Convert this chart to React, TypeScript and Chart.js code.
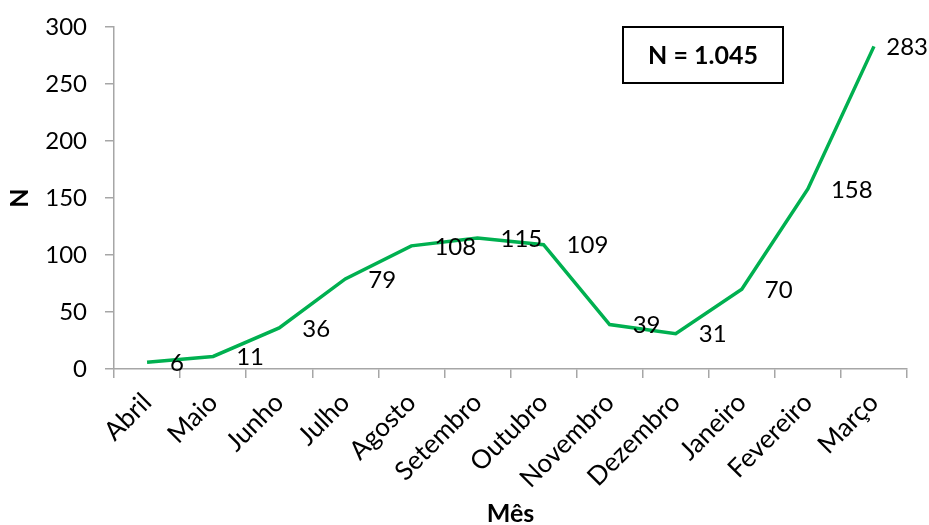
import React, { useEffect, useRef } from "react";
import { Chart, registerables } from "chart.js";

Chart.register(...registerables);

// Monthly counts, April through March
const months = [
  "Abril", "Maio", "Junho", "Julho", "Agosto", "Setembro",
  "Outubro", "Novembro", "Dezembro", "Janeiro", "Fevereiro", "Março",
];
const counts = [6, 11, 36, 79, 108, 115, 109, 39, 31, 70, 158, 283];
const yTicks = [0, 50, 100, 150, 200, 250, 300];
const totalLabel = "N = 1.045";

const FONT = "Lato, 'Open Sans', sans-serif";
const AXIS_GRAY = "#a6a6a6";
const LINE_GREEN = "#00b050";

// Writes each month's value to the right of its point
const valueLabels = {
  id: "valueLabels",
  afterDatasetsDraw(chart: any) {
    const { ctx } = chart;
    const meta = chart.getDatasetMeta(0);
    ctx.save();
    ctx.font = `24px ${FONT}`;
    ctx.fillStyle = "#000";
    ctx.textAlign = "left";
    ctx.textBaseline = "middle";
    meta.data.forEach((pt: any, i: number) => {
      const text = String(counts[i]);
      const w = ctx.measureText(text).width;
      let x = pt.x + 23;
      if (x + w > chart.width - 1) x = chart.width - 1 - w;
      ctx.fillText(text, x, pt.y + 1);
    });
    ctx.restore();
  },
};

// Framed total in the upper right of the plot
const totalBox = {
  id: "totalBox",
  afterDraw(chart: any) {
    const { ctx, chartArea } = chart;
    const w = 160;
    const h = 56;
    const x = chartArea.right - 124 - w;
    const y = chartArea.top;
    ctx.save();
    ctx.strokeStyle = "#000";
    ctx.lineWidth = 2;
    ctx.strokeRect(x, y, w, h);
    ctx.font = `bold 25px ${FONT}`;
    ctx.fillStyle = "#000";
    ctx.textAlign = "center";
    ctx.textBaseline = "middle";
    ctx.fillText(totalLabel, x + w / 2, y + h / 2 + 1);
    ctx.restore();
  },
};

export default function App() {
  const canvasRef = useRef<HTMLCanvasElement | null>(null);

  useEffect(() => {
    if (!canvasRef.current) return;
    const chart = new Chart(canvasRef.current, {
      type: "line",
      data: {
        labels: months,
        datasets: [
          {
            data: counts,
            borderColor: LINE_GREEN,
            borderWidth: 3.5,
            pointRadius: 0,
            tension: 0,
            fill: false,
          },
        ],
      },
      options: {
        animation: false,
        responsive: true,
        maintainAspectRatio: false,
        layout: { padding: { top: 27, right: 22, left: 0, bottom: 0 } },
        plugins: {
          legend: { display: false },
          tooltip: { enabled: false },
        },
        scales: {
          x: {
            type: "category",
            offset: true,
            grid: {
              offset: true,
              drawOnChartArea: false,
              drawTicks: true,
              tickLength: 9,
              color: AXIS_GRAY,
              lineWidth: 1.5,
            },
            border: { color: AXIS_GRAY, width: 1.5 },
            ticks: {
              minRotation: 45,
              maxRotation: 45,
              autoSkip: false,
              padding: 9,
              color: "#000",
              font: { family: FONT, size: 26 },
            },
            title: {
              display: true,
              text: "Mês",
              color: "#000",
              font: { family: FONT, size: 25, weight: "bold", lineHeight: 0.85 },
              padding: 0,
            },
            afterFit(scale: any) {
              scale.height = 156;
              scale.paddingTop = 0;
              scale.paddingBottom = 0;
            },
          },
          y: {
            min: 0,
            max: 300,
            afterBuildTicks(scale: any) {
              scale.ticks = yTicks.map((v) => ({ value: v }));
            },
            grid: {
              drawOnChartArea: false,
              drawTicks: true,
              tickLength: 9,
              color: AXIS_GRAY,
              lineWidth: 1.5,
            },
            border: { color: AXIS_GRAY, width: 1.5 },
            ticks: {
              padding: 18,
              color: "#000",
              font: { family: FONT, size: 24 },
            },
            title: {
              display: true,
              text: "N",
              color: "#000",
              font: { family: FONT, size: 25, weight: "bold", lineHeight: 1.2 },
              padding: { top: 5, bottom: 0 },
            },
            afterFit(scale: any) {
              scale.width = 114;
              scale.paddingTop = 0;
              scale.paddingBottom = 0;
            },
          },
        },
      },
      plugins: [valueLabels, totalBox],
    });
    return () => chart.destroy();
  }, []);

  return (
    <div
      style={{
        position: "absolute",
        left: 0,
        top: 0,
        width: 929,
        height: 525,
        background: "#fff",
      }}
    >
      <canvas ref={canvasRef} />
    </div>
  );
}
